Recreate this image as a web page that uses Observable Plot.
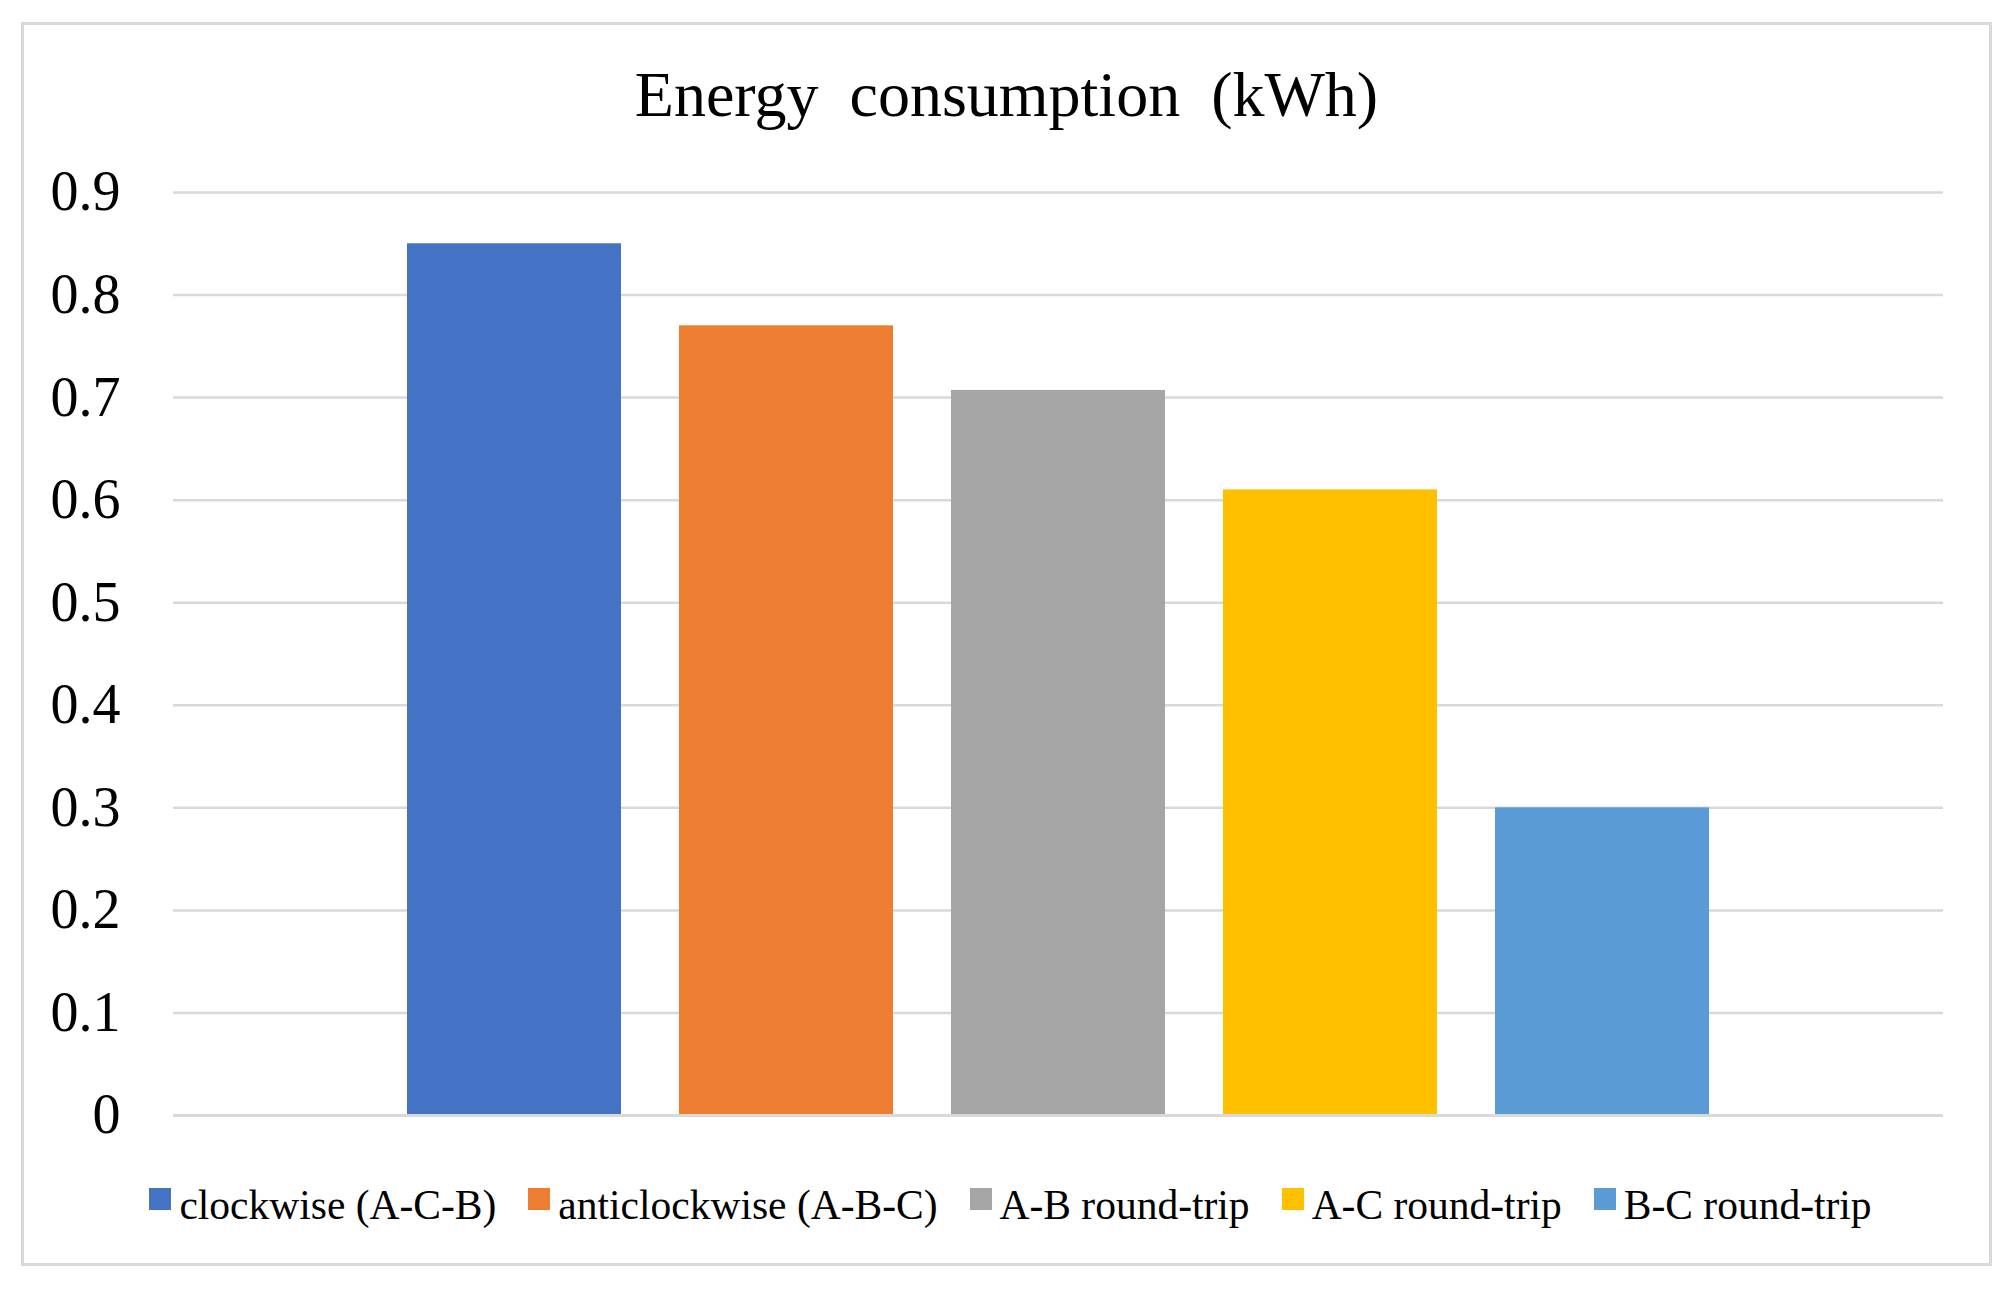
<!DOCTYPE html>
<html>
<head>
<meta charset="utf-8">
<script src="https://cdn.jsdelivr.net/npm/d3@7"></script>
<script src="https://cdn.jsdelivr.net/npm/@observablehq/plot@0.6"></script>
<style>
  html, body { margin: 0; padding: 0; background: #fff; }
  body { width: 2012px; height: 1293px; position: relative; overflow: hidden; font-family: "Liberation Serif", "Times New Roman", serif; color: #000; }
  #frame { position: absolute; left: 21px; top: 22px; width: 1971px; height: 1244px; border: 3px solid #d9d9d9; box-sizing: border-box; }
  #title { position: absolute; left: 21px; width: 1971px; top: 63px; text-align: center; font-size: 64px; line-height: 64px; word-spacing: 15px; white-space: nowrap; }
  #chart { position: absolute; left: 0; top: 150px; }
  #legend { position: absolute; left: 25px; width: 1971px; top: 1184px; display: flex; justify-content: center; align-items: center; font-size: 41.5px; line-height: 42px; white-space: nowrap; }
  .item { display: flex; align-items: center; margin: 0 16px; }
  .sw { width: 22px; height: 22px; margin-right: 8px; position: relative; top: -6px; }
</style>
</head>
<body>
<div id="frame"></div>
<div id="title">Energy consumption (kWh)</div>
<div id="chart"></div>
<div id="legend"></div>
<script>
const series = ["clockwise (A-C-B)", "anticlockwise (A-B-C)", "A-B round-trip", "A-C round-trip", "B-C round-trip"];
const values = [0.85, 0.77, 0.707, 0.61, 0.30];
const colors = ["#4472C4", "#ED7D31", "#A5A5A5", "#FFC000", "#5B9BD5"];
const yTicks = [0, 0.1, 0.2, 0.3, 0.4, 0.5, 0.6, 0.7, 0.8, 0.9];
const yTickLabels = ["0", "0.1", "0.2", "0.3", "0.4", "0.5", "0.6", "0.7", "0.8", "0.9"];

const data = series.map((s, i) => ({series: s, value: values[i]}));

const chart = Plot.plot({
  width: 2012,
  height: 1000,
  marginTop: 42,
  marginBottom: 35,
  marginLeft: 173,
  marginRight: 69,
  style: {fontFamily: "Liberation Serif, Times New Roman, serif", fontSize: "56px", color: "#000", background: "transparent", overflow: "visible"},
  x: {domain: series, paddingInner: 0.215, paddingOuter: 0.854, axis: null},
  y: {domain: [0, 0.9], axis: null},
  color: {domain: series, range: colors},
  marks: [
    Plot.gridY(yTicks, {stroke: "#d9d9d9", strokeWidth: 2.5, strokeOpacity: 1}),
    Plot.barY(data, {x: "series", y: "value", fill: "series"}),
    Plot.ruleY([0], {stroke: "#d9d9d9", strokeWidth: 3}),
    Plot.axisY(yTicks, {tickSize: 0, tickPadding: 53, tickFormat: d => yTickLabels[yTicks.indexOf(d)], label: null, fontSize: 56})
  ]
});
document.getElementById("chart").appendChild(chart);

const legend = document.getElementById("legend");
series.forEach((s, i) => {
  const item = document.createElement("div");
  item.className = "item";
  const sw = document.createElement("span");
  sw.className = "sw";
  sw.style.background = colors[i];
  const label = document.createElement("span");
  label.textContent = s;
  item.appendChild(sw);
  item.appendChild(label);
  legend.appendChild(item);
});
</script>
</body>
</html>
